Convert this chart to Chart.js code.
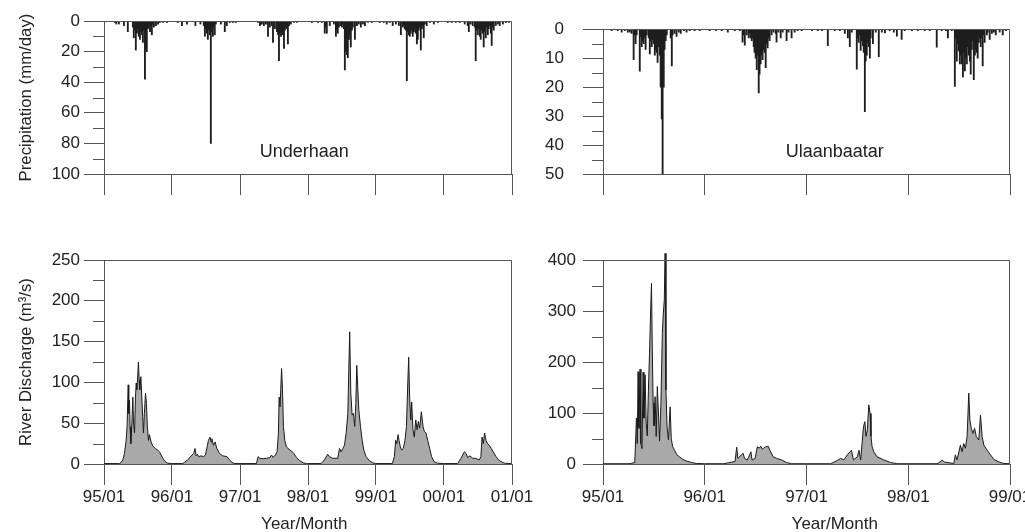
<!DOCTYPE html>
<html><head><meta charset="utf-8">
<script src="https://cdn.jsdelivr.net/npm/chart.js@4.4.1/dist/chart.umd.min.js"></script>
<style>
html,body{margin:0;padding:0;background:#fff;}
#wrap{position:relative;width:1025px;height:532px;overflow:hidden;background:#fff;}
canvas{position:absolute;left:0;top:0;}
</style></head><body>
<div id="wrap">
<canvas id="cTL" width="1025" height="532"></canvas>
<canvas id="cTR" width="1025" height="532"></canvas>
<canvas id="cBL" width="1025" height="532"></canvas>
<canvas id="cBR" width="1025" height="532"></canvas>
</div>
<script>
// ---------------- DATA ----------------
const undYears = [1995, 1996, 1997, 1998, 1999, 2000, 2001];
const undTickLabels = ['95/01', '96/01', '97/01', '98/01', '99/01', '00/01', '01/01'];
const ulbYears = [1995, 1996, 1997, 1998, 1999];
const ulbTickLabels = ['95/01', '96/01', '97/01', '98/01', '99/01'];

// Daily precipitation (mm/day), [day of year, value]
const undRain1995 = [[59,1],[67,2],[81,2],[108,3],[129,7],[156,4],[161,11],[167,6],[172,19],[178,8],[183,5],[188,10],[194,12],[199,7],[205,9],[210,14],[215,6],[221,38],[226,18],[231,20],[237,5],[242,4],[248,7],[253,3],[258,9],[264,2],[269,4],[280,3],[291,2],[301,1],[318,1],[339,1]];
const undRain1996 = [[32,1],[55,3],[82,2],[127,3],[154,2],[172,3],[178,10],[183,5],[188,8],[194,12],[199,6],[205,9],[210,80],[215,7],[221,10],[226,4],[231,9],[237,2],[264,2],[285,7],[296,3],[312,1],[328,1],[344,1]];
const undRain1997 = [[97,1],[108,3],[113,2],[118,2],[129,3],[140,2],[151,10],[161,4],[172,3],[178,14],[188,5],[199,7],[205,9],[210,26],[215,8],[221,10],[226,7],[231,9],[237,18],[242,6],[248,5],[253,4],[258,15],[264,3],[274,2],[291,1],[307,1]];
const undRain1998 = [[22,1],[54,1],[75,1],[91,8],[97,4],[102,8],[118,3],[140,2],[151,10],[156,5],[161,8],[167,4],[178,3],[183,4],[188,2],[194,5],[199,32],[205,20],[210,22],[215,24],[221,12],[226,9],[231,17],[237,6],[242,4],[253,12],[264,3],[274,2],[285,4],[296,2],[307,3],[323,1],[344,1]];
const undRain1999 = [[22,1],[43,1],[59,2],[75,1],[91,3],[108,2],[124,3],[135,9],[145,4],[151,3],[156,5],[161,6],[167,39],[172,7],[178,9],[183,10],[188,8],[194,6],[199,10],[205,7],[210,5],[215,8],[221,15],[226,12],[231,6],[237,4],[242,19],[248,5],[253,3],[258,11],[264,2],[274,3],[291,1],[312,2],[334,1]];
const undRain2000 = [[22,1],[43,1],[65,1],[86,1],[113,2],[129,3],[135,7],[145,2],[156,3],[167,4],[172,26],[178,6],[183,9],[188,5],[194,10],[199,12],[205,6],[210,8],[215,17],[221,7],[226,11],[231,4],[237,9],[242,5],[248,3],[253,8],[258,16],[264,4],[269,6],[280,3],[291,2],[301,3],[318,2],[334,1],[350,1]];

const ulbRain1995 = [[32,0.5],[54,0.5],[68,1],[79,0.5],[90,1],[97,1],[104,1.5],[111,10.5],[115,2],[118,5],[122,2],[133,14.5],[136,2.5],[140,6],[143,4],[147,5],[151,3],[154,7],[158,2],[165,3],[169,8.5],[172,4],[176,6],[179,3.5],[183,5],[187,9],[190,7],[194,8],[197,11.5],[201,6],[205,9],[208,20],[212,31],[215,50],[219,20],[222,7],[226,4],[230,2],[244,3],[248,12.7],[251,2],[258,1.5],[265,2.5],[273,1],[280,1.5],[291,0.5],[301,1],[312,0.5],[330,0.5],[348,0.5]];
const ulbRain1996 = [[19,0.5],[41,0.5],[62,0.5],[84,1],[109,0.5],[127,0.5],[137,4.5],[141,2],[145,5.5],[152,2],[159,3],[162,1.5],[166,3],[170,4],[173,3],[177,6],[180,8],[184,10],[188,14],[191,9],[195,22],[198,15.5],[202,12],[205,9],[209,10.5],[213,7],[216,8],[220,13.3],[223,5],[227,6.5],[231,3],[234,4],[241,2],[248,1],[256,1.5],[259,4.5],[266,1],[274,3],[281,1],[295,4],[302,1],[313,3],[324,1],[335,0.5],[349,0.5]];
const ulbRain1997 = [[20,0.5],[41,0.5],[56,0.5],[77,5.7],[102,0.5],[120,0.5],[138,1.5],[149,3],[156,6],[163,1],[181,13.8],[185,3],[188,4.6],[192,2],[195,7.3],[199,4],[203,5.7],[206,8],[210,28.5],[213,11],[217,9],[221,4.6],[224,6],[228,10],[231,3],[239,5],[249,1],[260,9.5],[271,1],[282,1.3],[299,0.5],[314,1],[325,2.4],[342,3.5],[353,0.5]];
const ulbRain1998 = [[14,0.5],[35,0.5],[60,0.5],[78,0.5],[103,6.2],[121,0.5],[136,0.5],[143,3],[157,0.5],[168,19.8],[171,3],[175,11],[179,5],[182,7.5],[186,12],[189,9],[193,12],[197,16.5],[200,8],[204,14.4],[207,10],[211,12],[214,6],[218,9],[222,11],[225,15.5],[229,7],[232,4],[236,17.4],[240,9],[243,7],[247,8],[250,10],[254,4.6],[258,3],[261,6],[265,3],[268,12.7],[272,2],[275,4.6],[283,2],[286,1],[293,3.5],[301,1.5],[308,1],[315,2],[329,1],[340,2],[351,0.5]];

// River discharge (m3/s), [day of year, value]
const undFlow1995 = [[1,0.5],[84,0.5],[93,2],[102,5],[111,13],[120,29],[125,46],[131,97],[134,62],[138,78],[141,46],[145,25],[150,46],[156,82],[159,54],[165,38],[170,82],[174,99],[177,91],[181,103],[186,125],[190,103],[193,91],[199,107],[204,82],[209,58],[213,38],[218,62],[224,87],[229,74],[234,46],[240,29],[245,36],[254,27],[263,22],[277,19],[290,17],[299,15],[308,11],[317,7],[329,3],[343,1],[365,0.5]];
const undFlow1996 = [[1,0.5],[59,0.5],[68,2],[86,5],[104,10],[118,13],[125,19],[131,10],[138,12],[145,9],[157,10],[170,9],[181,11],[190,21],[197,29],[206,33],[211,27],[216,31],[224,23],[233,27],[242,19],[256,13],[274,10],[297,9],[310,5],[324,2],[336,0.5],[366,0.5]];
const undFlow1997 = [[1,0.5],[89,0.5],[98,9],[107,7],[125,6.5],[143,7],[161,8],[170,11],[179,8],[191,11],[200,15],[207,38],[211,82],[216,70],[224,117],[229,91],[234,46],[241,29],[250,21],[264,18],[277,16],[290,13],[304,8],[322,4],[340,1.5],[358,0.5],[365,0.5]];
const undFlow1998 = [[1,0.5],[72,0.5],[89,5],[107,12],[116,9],[134,7],[161,7],[170,19],[179,15],[188,19],[197,23],[206,38],[215,62],[220,113],[225,162],[231,87],[238,60],[245,62],[252,46],[258,74],[263,121],[268,95],[274,66],[283,46],[292,29],[301,17],[313,9],[331,4],[349,1.5],[365,0.5]];
const undFlow1999 = [[1,0.5],[89,0.5],[100,9],[107,29],[113,25],[120,36],[125,29],[132,21],[139,17],[148,19],[157,29],[165,46],[172,99],[177,131],[182,82],[188,54],[193,76],[200,42],[207,33],[215,54],[222,42],[229,52],[236,44],[245,64],[254,46],[261,40],[270,38],[279,29],[290,19],[300,9],[313,3],[331,1],[365,0.5]];
const undFlow2000 = [[1,0.5],[75,0.5],[93,7],[111,15],[120,13],[129,8],[141,10],[156,7],[170,7],[191,5],[200,9],[206,33],[213,25],[220,38],[227,29],[236,25],[245,23],[256,19],[266,15],[281,9],[295,5],[308,3],[326,1],[361,0.5],[366,0.5]];

const ulbFlow1995 = [[1,0.5],[90,0.5],[100,1],[115,3],[121,90],[124,40],[127,181],[130,70],[134,186],[137,40],[141,30],[145,180],[148,90],[152,175],[156,80],[160,55],[164,145],[168,217],[171,280],[175,354],[178,223],[181,120],[184,75],[188,132],[192,54],[196,152],[200,100],[204,45],[209,120],[214,256],[217,290],[221,322],[224,413],[227,145],[231,73],[236,47],[242,112],[246,50],[251,34],[258,27],[266,18],[276,14],[288,9],[300,6],[318,3],[336,1],[365,0.5]];
const ulbFlow1996 = [[1,0.5],[68,0.5],[92,3],[110,5],[116,33],[120,11],[139,21],[144,11],[154,8],[167,24],[171,8],[182,11],[190,34],[197,31],[202,35],[208,29],[217,33],[229,35],[235,27],[247,14],[259,11],[277,8],[295,3],[313,0.5],[366,0.5]];
const ulbFlow1997 = [[1,0.5],[87,0.5],[111,7],[123,11],[135,8],[147,18],[162,27],[169,8],[183,14],[189,27],[195,8],[205,73],[210,83],[214,54],[219,67],[224,116],[229,99],[232,54],[236,34],[242,24],[254,14],[278,8],[302,3],[326,0.5],[365,0.5]];
const ulbFlow1998 = [[1,0.5],[104,0.5],[115,4],[122,8],[130,4],[140,3],[164,1],[170,18],[176,8],[188,37],[194,24],[200,40],[206,31],[212,54],[218,139],[222,86],[227,70],[233,60],[239,70],[245,54],[254,47],[260,96],[266,54],[272,37],[284,27],[296,18],[308,9],[326,4],[344,1],[365,0.5]];

// ---------------- HELPERS ----------------
const DAY = 86400000;
function dayIndex(y, doy) { return (Date.UTC(y, 0, 1) - Date.UTC(1995, 0, 1)) / DAY + doy - 1; }
function toPoints(year, pairs) { return pairs.map(p => ({ x: dayIndex(year, p[0]), y: p[1] })); }

const FONT = "'Liberation Sans', Arial, Helvetica, sans-serif";
const AXIS = '#555';
const TXT = '#222';
Chart.defaults.font.family = FONT;
Chart.defaults.color = TXT;

const minorTicks = {
  id: 'minorTicks',
  afterDraw(chart, args, o) {
    const s = chart.scales.y, ctx = chart.ctx;
    ctx.save(); ctx.strokeStyle = AXIS; ctx.lineWidth = 1;
    o.values.forEach(v => {
      const py = Math.round(s.getPixelForValue(v)) + 0.5;
      ctx.beginPath(); ctx.moveTo(s.right - o.length, py); ctx.lineTo(s.right, py); ctx.stroke();
    });
    ctx.restore();
  }
};
const frame = {
  id: 'frame',
  afterDraw(chart) {
    const a = chart.chartArea, ctx = chart.ctx;
    ctx.save(); ctx.strokeStyle = AXIS; ctx.lineWidth = 1;
    ctx.beginPath();
    ctx.moveTo(Math.round(a.left) + 0.5, Math.round(a.top) + 0.5);
    ctx.lineTo(Math.round(a.right) - 0.5, Math.round(a.top) + 0.5);
    ctx.lineTo(Math.round(a.right) - 0.5, Math.round(a.bottom));
    ctx.stroke(); ctx.restore();
  }
};
const texts = {
  id: 'texts',
  afterDraw(chart, args, o) {
    const ctx = chart.ctx, xs = chart.scales.x, ys = chart.scales.y;
    ctx.save(); ctx.fillStyle = TXT; ctx.textAlign = 'center'; ctx.textBaseline = 'alphabetic';
    o.items.forEach(it => {
      ctx.font = it.size + 'px ' + FONT;
      const px = xs.getPixelForValue(it.x);
      const py = it.y !== undefined ? ys.getPixelForValue(it.y) : chart.chartArea.bottom + it.dy;
      ctx.fillText(it.text, px, py);
    });
    ctx.restore();
  }
};

function xAxis(years, labels, showLabels, height) {
  return {
    type: 'linear', min: dayIndex(years[0], 1), max: dayIndex(years[years.length - 1], 1),
    offset: false,
    afterBuildTicks: s => { s.ticks = years.map(y => ({ value: dayIndex(y, 1) })); },
    ticks: { display: showLabels, autoSkip: false, maxRotation: 0, padding: 2, font: { size: 17 }, color: TXT,
      callback: (v, i) => labels[i] },
    grid: { drawOnChartArea: false, drawTicks: true, tickLength: 21, color: AXIS, offset: false },
    border: { display: true, color: AXIS },
    afterFit: s => { s.height = height; s.paddingLeft = 0; s.paddingRight = 0; }
  };
}
function yAxis(o) {
  return {
    type: 'linear', position: 'left', reverse: !!o.reverse, min: o.min, max: o.max,
    ticks: { stepSize: o.step, padding: o.pad, font: { size: 17 }, color: TXT },
    grid: { drawOnChartArea: false, tickLength: 20, color: AXIS },
    border: { display: true, color: AXIS },
    title: { display: !!o.title, text: o.title || '', font: { size: 16.8 }, color: TXT, padding: { top: 16, bottom: 0 } },
    afterFit: s => { s.width = o.width; }
  };
}
function base(padding) {
  return { responsive: false, animation: false, events: [], devicePixelRatio: 1,
    layout: { padding: padding } };
}

// ---------------- CHARTS ----------------
const undRain = [].concat(toPoints(1995, undRain1995), toPoints(1996, undRain1996), toPoints(1997, undRain1997),
  toPoints(1998, undRain1998), toPoints(1999, undRain1999), toPoints(2000, undRain2000));
const ulbRain = [].concat(toPoints(1995, ulbRain1995), toPoints(1996, ulbRain1996), toPoints(1997, ulbRain1997), toPoints(1998, ulbRain1998));
const undFlow = [].concat(toPoints(1995, undFlow1995), toPoints(1996, undFlow1996), toPoints(1997, undFlow1997),
  toPoints(1998, undFlow1998), toPoints(1999, undFlow1999), toPoints(2000, undFlow2000));
const ulbFlow = [].concat(toPoints(1995, ulbFlow1995), toPoints(1996, ulbFlow1996), toPoints(1997, ulbFlow1997), toPoints(1998, ulbFlow1998));

function rainChart(id, data, years, labels, y, pad, items, minor) {
  const opts = base(pad);
  opts.scales = { x: xAxis(years, labels, false, 532 - 174), y: yAxis(y) };
  opts.plugins = { legend: { display: false }, tooltip: { enabled: false },
    minorTicks: { values: minor, length: 11 }, texts: { items: items } };
  return new Chart(document.getElementById(id), {
    type: 'bar',
    data: { datasets: [{ data: data, backgroundColor: '#1e1e1e', borderWidth: 0, barThickness: 1.2, grouped: false }] },
    options: opts, plugins: [minorTicks, frame, texts]
  });
}
function flowChart(id, data, years, labels, y, pad, items, minor) {
  const opts = base(pad);
  opts.scales = { x: xAxis(years, labels, true, 532 - 464), y: yAxis(y) };
  opts.plugins = { legend: { display: false }, tooltip: { enabled: false },
    minorTicks: { values: minor, length: 11 }, texts: { items: items } };
  return new Chart(document.getElementById(id), {
    type: 'line',
    data: { datasets: [{ data: data, borderColor: '#1a1a1a', borderWidth: 1, backgroundColor: '#a9a9a9',
      fill: 'origin', pointRadius: 0, tension: 0, clip: { left: 0, top: 10, right: 0, bottom: 0 } }] },
    options: opts, plugins: [minorTicks, frame, texts]
  });
}

rainChart('cTL', undRain, undYears, undTickLabels,
  { reverse: true, min: 0, max: 100, step: 20, pad: 4, width: 104, title: 'Precipitation (mm/day)' },
  { left: 0, right: 513, top: 21, bottom: 0 },
  [{ text: 'Underhaan', x: dayIndex(1997, 346), y: 88.7, size: 18 }],
  [10, 30, 50, 70, 90]);

rainChart('cTR', ulbRain, ulbYears, ulbTickLabels,
  { reverse: true, min: 0, max: 50, step: 10, pad: 19, width: 603 },
  { left: 0, right: 15, top: 21, bottom: 0 },
  [{ text: 'Ulaanbaatar', x: dayIndex(1997, 102), y: 44.3, size: 18 }],
  [5, 15, 25, 35, 45]);

flowChart('cBL', undFlow, undYears, undTickLabels,
  { min: 0, max: 250, step: 50, pad: 4, width: 104, title: 'River Discharge (m\u00B3/s)' },
  { left: 0, right: 513, top: 260, bottom: 0 },
  [{ text: 'Year/Month', x: dayIndex(1997, 346), dy: 64.5, size: 17 }],
  [25, 75, 125, 175, 225]);

flowChart('cBR', ulbFlow, ulbYears, ulbTickLabels,
  { min: 0, max: 400, step: 100, pad: 7, width: 603 },
  { left: 0, right: 15, top: 260, bottom: 0 },
  [{ text: 'Year/Month', x: dayIndex(1997, 102), dy: 64.5, size: 17 }],
  [50, 150, 250, 350]);
</script>
</body></html>
